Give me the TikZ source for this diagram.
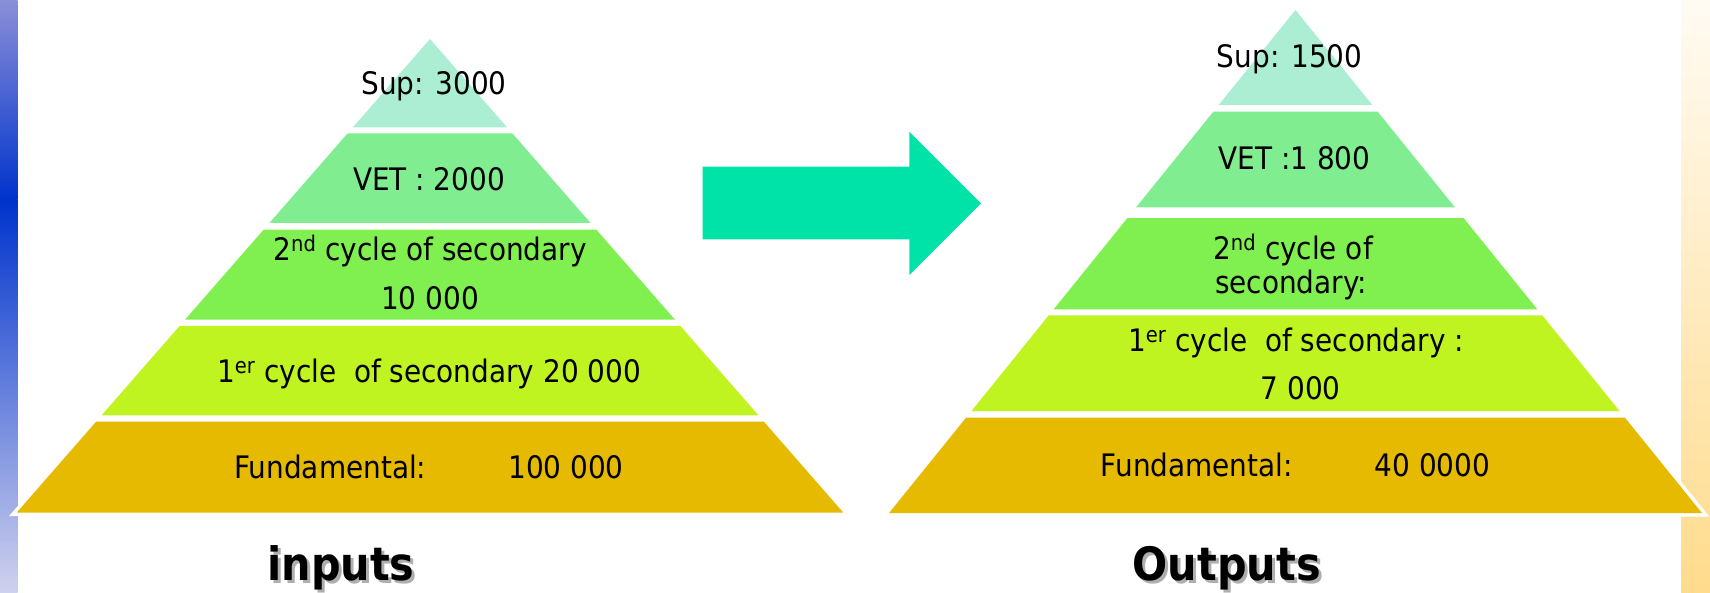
\documentclass[tikz,border=0pt]{standalone}
\usepackage{fontspec}
\setmainfont{DejaVu Sans}[FakeStretch=0.9]
\definecolor{supmint}{RGB}{171,238,212}
\definecolor{vetgreen}{RGB}{128,238,144}
\definecolor{secgreen}{RGB}{128,240,80}
\definecolor{firstlime}{RGB}{192,244,32}
\definecolor{fundgold}{RGB}{229,186,0}
\definecolor{arrowteal}{RGB}{0,227,168}
\definecolor{stripblue}{RGB}{0,51,204}
\definecolor{striplilac}{RGB}{138,143,216}
\definecolor{stripmist}{RGB}{208,210,238}
\definecolor{stripcream}{RGB}{255,251,244}
\definecolor{stripapricot}{RGB}{255,219,140}
\tikzset{
  tier/.style={preaction={draw=white, line width=7pt, miter limit=10}},
  tierlabel/.style={anchor=base, font=\fontsize{31}{37}\selectfont},
  headlabel/.style={anchor=base, font=\fontsize{46}{55}\selectfont\bfseries},
}
\begin{document}
\begin{tikzpicture}[y=1pt, x=1pt, yscale=-1, inner sep=0pt, outer sep=0pt]
\useasboundingbox (0,0) rectangle (1710,593);
% side strips
\path[top color=striplilac, bottom color=stripblue] (0,0) rectangle (17.7,200);
\path[top color=stripblue, bottom color=stripmist] (0,200) rectangle (17.7,593);
\path[top color=stripcream, bottom color=stripapricot] (1681,0) rectangle (1710,593);
% inputs pyramid
\begin{scope}
  \path[tier, fill=supmint] (430,39) -- (507.2,127.5) -- (352.8,127.5) -- cycle;
  \path[tier, fill=vetgreen] (347.5,133.5) -- (512.5,133.5) -- (590.6,223) -- (269.4,223) -- cycle;
  \path[tier, fill=secgreen] (263.7,229.6) -- (596.3,229.6) -- (674.9,319.6) -- (185.1,319.6) -- cycle;
  \path[tier, fill=firstlime] (179.6,326) -- (680.4,326) -- (758.4,415.3) -- (101.6,415.3) -- cycle;
  \path[tier, fill=fundgold] (96.1,421.7) -- (763.9,421.7) -- (843.2,512.5) -- (16.8,512.5) -- cycle;
  \node[tierlabel] (supin) at (434,94.5) {Sup: 3000};
  \node[tierlabel] (vetin) at (429,190.2) {VET : 2000};
  \node[tierlabel] (secondin) at (430,261) {2\textsuperscript{nd} cycle of secondary};
  \node[tierlabel] (secondinval) at (430,310) {10 000};
  \node[tierlabel] (firstin) at (429,382.3) {1\textsuperscript{er} cycle\ \ of secondary 20 000};
  \node[tierlabel] (fundin) at (429,478.5) {Fundamental:\hspace{82pt}100 000};
\end{scope}
% arrow
\path[fill=arrowteal] (702.7,166.7) -- (909.3,166.7) -- (909.3,131.7) -- (981,203.3)
  -- (909.3,275) -- (909.3,239.3) -- (702.7,239.3) -- cycle;
% outputs pyramid
\begin{scope}
  \path[tier, fill=supmint] (1295.5,10) -- (1372.3,105) -- (1218.7,105) -- cycle;
  \path[tier, fill=vetgreen] (1213.4,111.6) -- (1377.6,111.6) -- (1454.9,207.3) -- (1136.1,207.3) -- cycle;
  \path[tier, fill=secgreen] (1127.3,218.2) -- (1463.7,218.2) -- (1537.4,309.4) -- (1053.6,309.4) -- cycle;
  \path[tier, fill=firstlime] (1048.7,315.4) -- (1542.3,315.4) -- (1619.5,411) -- (971.5,411) -- cycle;
  \path[tier, fill=fundgold] (966.2,417.5) -- (1624.8,417.5) -- (1702.1,513.2) -- (888.9,513.2) -- cycle;
  \node[tierlabel] (supout) at (1289.6,68) {Sup: 1500};
  \node[tierlabel] (vetout) at (1294.5,170) {VET :1 800};
  \node[tierlabel] (secondout) at (1293,260) {2\textsuperscript{nd} cycle of};
  \node[tierlabel] (secondoutb) at (1291,294) {secondary:};
  \node[tierlabel] (firstout) at (1296,352) {1\textsuperscript{er} cycle\ \ of secondary :};
  \node[tierlabel] (firstoutval) at (1300.6,399) {7 000};
  \node[tierlabel] (fundout) at (1295.5,476.5) {Fundamental:\hspace{82pt}40 0000};
\end{scope}
% captions
\node[headlabel, text=black!45, opacity=0.7] (inshadow) at (344,583) {inputs};
\node[headlabel] (inlabel) at (341,580) {inputs};
\node[headlabel, text=black!45, opacity=0.7] (outshadow) at (1229.7,583) {Outputs};
\node[headlabel] (outlabel) at (1226.7,580) {Outputs};
\end{tikzpicture}
\end{document}
